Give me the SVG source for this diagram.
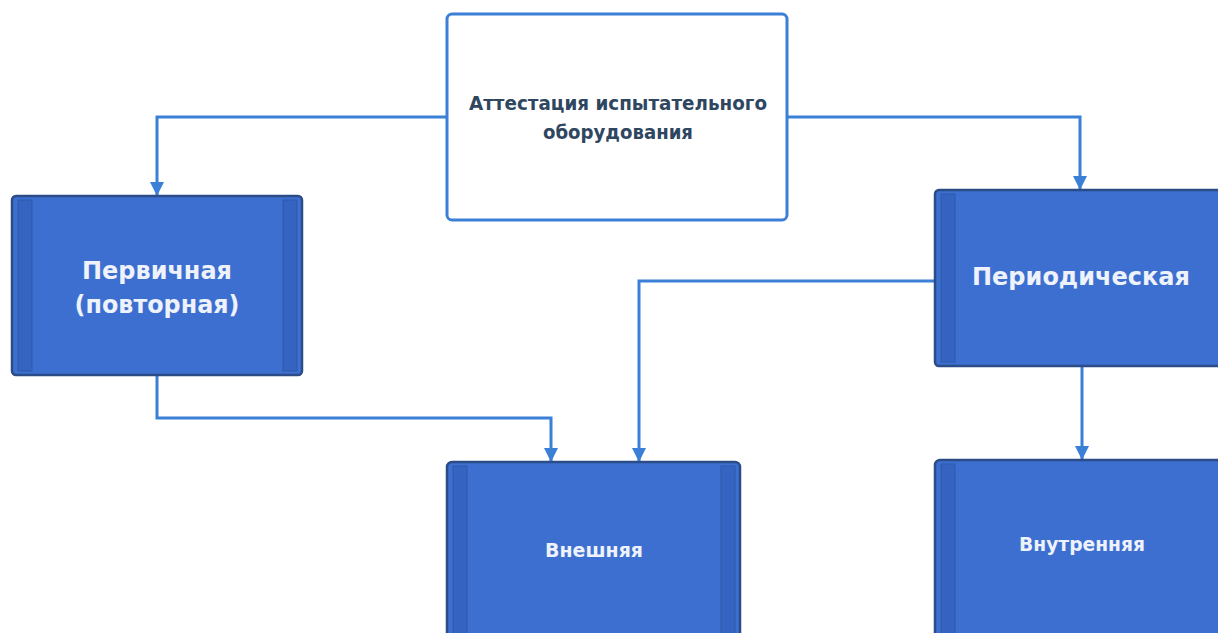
<svg xmlns="http://www.w3.org/2000/svg" width="1218" height="633" viewBox="0 0 1218 633">
<style>
.bg{fill:#ffffff}
.top{fill:#ffffff;stroke:#3b7fd6;stroke-width:3}
.box{fill:#3d6fd0;stroke:#2b4c86;stroke-width:2.5}
.stripe{fill:#3563c2;stroke:#2f5aa8;stroke-width:1}
.ttop{font-family:"DejaVu Sans","Liberation Sans",sans-serif;font-weight:bold;font-size:19px;fill:#2f4660;text-anchor:middle}
.tbig{font-family:"DejaVu Sans","Liberation Sans",sans-serif;font-weight:bold;font-size:25px;fill:#eef2fa;text-anchor:middle}
.tsm{font-family:"DejaVu Sans","Liberation Sans",sans-serif;font-weight:bold;font-size:19px;fill:#eef2fa;text-anchor:middle}
.conn{fill:none;stroke:#3b7fd6;stroke-width:3}
</style>
<defs>
<marker id="arr" viewBox="0 0 14 14" refX="13" refY="7" markerWidth="14" markerHeight="14" markerUnits="userSpaceOnUse" orient="auto">
<path d="M0,0 L14,7 L0,14 Z" fill="#3b7fd6"/>
</marker>
</defs>
<rect class="bg" x="0" y="0" width="1218" height="633"/>
<g id="connectors">
<path class="conn" d="M447,117 H157 V195" marker-end="url(#arr)"/>
<path class="conn" d="M787,117 H1080 V189" marker-end="url(#arr)"/>
<path class="conn" d="M157,375 V418 H551 V461" marker-end="url(#arr)"/>
<path class="conn" d="M935,281 H639 V461" marker-end="url(#arr)"/>
<path class="conn" d="M1082,366 V459" marker-end="url(#arr)"/>
</g>
<g id="node-attestation">
<rect class="top" x="447" y="14" width="340" height="206" rx="5"/>
<text class="ttop" x="618" y="110" textLength="298" lengthAdjust="spacingAndGlyphs">Аттестация испытательного</text>
<text class="ttop" x="618" y="139" textLength="150" lengthAdjust="spacingAndGlyphs">оборудования</text>
</g>
<g id="node-primary">
<rect class="box" x="12" y="196" width="290" height="179" rx="4"/>
<rect class="stripe" x="18" y="200" width="14" height="171"/>
<rect class="stripe" x="283" y="200" width="14" height="171"/>
<text class="tbig" x="157" y="279" textLength="150" lengthAdjust="spacingAndGlyphs">Первичная</text>
<text class="tbig" x="157" y="313" textLength="165" lengthAdjust="spacingAndGlyphs">(повторная)</text>
</g>
<g id="node-periodic">
<rect class="box" x="935" y="190" width="290" height="176" rx="4"/>
<rect class="stripe" x="941" y="194" width="14" height="168"/>
<text class="tbig" x="1081" y="285" textLength="218" lengthAdjust="spacingAndGlyphs">Периодическая</text>
</g>
<g id="node-external">
<rect class="box" x="447" y="462" width="293" height="180" rx="5"/>
<rect class="stripe" x="453" y="466" width="14" height="170"/>
<rect class="stripe" x="721" y="466" width="14" height="170"/>
<text class="tsm" x="594" y="557" textLength="98" lengthAdjust="spacingAndGlyphs">Внешняя</text>
</g>
<g id="node-internal">
<rect class="box" x="935" y="460" width="290" height="182" rx="5"/>
<rect class="stripe" x="941" y="464" width="14" height="172"/>
<text class="tsm" x="1082" y="551" textLength="126" lengthAdjust="spacingAndGlyphs">Внутренняя</text>
</g>
</svg>
